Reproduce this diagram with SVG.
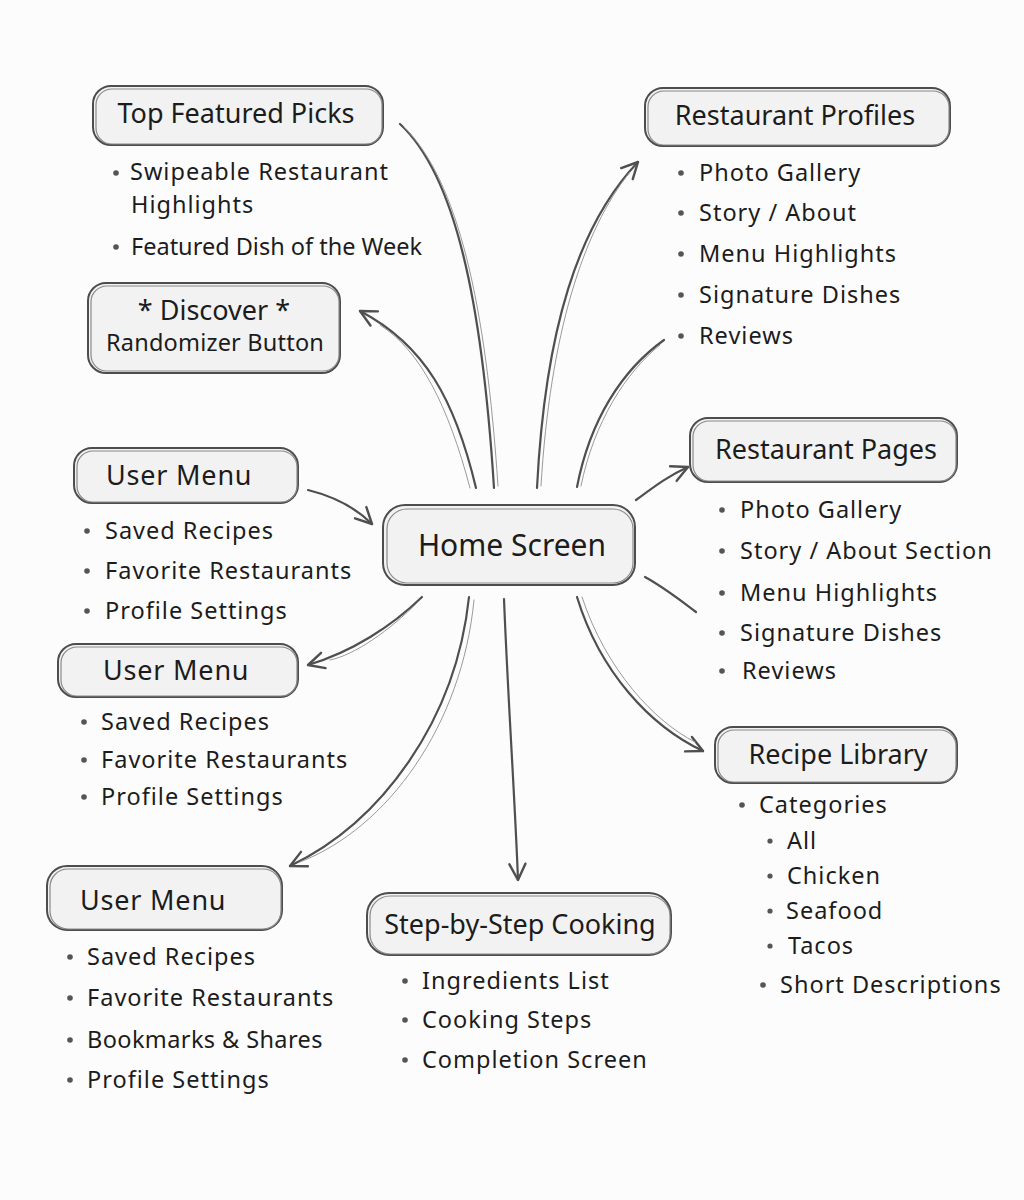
<svg xmlns="http://www.w3.org/2000/svg" width="1024" height="1200" viewBox="0 0 1024 1200">
<defs>
<style>
.bg{fill:#fcfcfc}
.box{fill:#f2f2f2;stroke:#4d4d4d;stroke-width:2}
.box2{fill:none;stroke:#8a8a8a;stroke-width:1.2}
.t{font-family:"Noto Sans","Open Sans",sans-serif;font-size:27px;fill:#1c1c1c}
.tc{text-anchor:middle}
.b{font-family:"Noto Sans","Open Sans",sans-serif;font-size:23.5px;fill:#1c1c1c;letter-spacing:1px}
.dot{fill:#555}
.conn{fill:none;stroke:#4f4f4f;stroke-width:2.2;stroke-linecap:round}
.conn2{fill:none;stroke:#9a9a9a;stroke-width:1;stroke-linecap:round}
</style>
<marker id="arr" markerWidth="24" markerHeight="24" refX="20" refY="12" orient="auto" markerUnits="userSpaceOnUse">
<path d="M4,4 L20,12 L4,20" fill="none" stroke="#4f4f4f" stroke-width="2.4" stroke-linecap="round" stroke-linejoin="round"/>
</marker>
</defs>
<rect class="bg" x="0" y="0" width="1024" height="1200"/>

<g id="connectors">
<path class="conn" d="M400 124 C455 175 482 300 494 488"/>
<path class="conn2" d="M404 127 C458 180 486 305 498 486"/>
<path class="conn" d="M476 488 C455 400 425 345 360 311" marker-end="url(#arr)"/>
<path class="conn2" d="M470 488 C448 405 420 350 380 325"/>
<path class="conn" d="M537 488 C545 330 578 225 638 162" marker-end="url(#arr)"/>
<path class="conn2" d="M541 486 C550 335 583 230 630 172"/>
<path class="conn" d="M577 487 C590 420 622 370 664 340"/>
<path class="conn2" d="M581 486 C594 422 626 372 660 345"/>
<path class="conn" d="M636 500 C655 486 668 476 688 467" marker-end="url(#arr)"/>
<path class="conn" d="M645 577 C665 588 680 600 696 612"/>
<path class="conn" d="M308 490 C336 497 356 508 372 524" marker-end="url(#arr)"/>
<path class="conn" d="M422 597 C392 626 352 652 308 665" marker-end="url(#arr)"/>
<path class="conn2" d="M418 602 C390 630 355 655 330 660"/>
<path class="conn" d="M469 597 C456 720 382 822 290 866" marker-end="url(#arr)"/>
<path class="conn2" d="M474 600 C462 725 388 828 300 862"/>
<path class="conn" d="M504 599 C508 700 515 800 518 880" marker-end="url(#arr)"/>
<path class="conn" d="M577 597 C600 672 650 726 703 751" marker-end="url(#arr)"/>
<path class="conn2" d="M582 597 C606 670 655 722 695 742"/>
</g>

<g id="top-featured-picks">
<rect class="box" x="93" y="86" width="290" height="59" rx="18"/>
<rect class="box2" x="96" y="89" width="286" height="55" rx="16"/>
<text class="t tc" x="236" y="123">Top Featured Picks</text>
<circle class="dot" cx="116" cy="173" r="2.8"/>
<text class="b" x="130" y="180">Swipeable Restaurant</text>
<text class="b" x="131" y="213">Highlights</text>
<circle class="dot" cx="116" cy="247" r="2.8"/>
<text class="b" x="131" y="255" style="letter-spacing:0px">Featured Dish of the Week</text>
</g>

<g id="discover">
<rect class="box" x="88" y="283" width="252" height="90" rx="18"/>
<rect class="box2" x="91" y="286" width="248" height="85" rx="16"/>
<text class="t tc" x="214" y="320">* Discover *</text>
<text class="b tc" x="215" y="351" style="letter-spacing:0.2px">Randomizer Button</text>
</g>

<g id="restaurant-profiles">
<rect class="box" x="645" y="88" width="305" height="58" rx="18"/>
<rect class="box2" x="648" y="91" width="301" height="54" rx="16"/>
<text class="t tc" x="795" y="125">Restaurant Profiles</text>
<circle class="dot" cx="681" cy="173" r="2.8"/>
<text class="b" x="699" y="181">Photo Gallery</text>
<circle class="dot" cx="681" cy="213" r="2.8"/>
<text class="b" x="699" y="221">Story / About</text>
<circle class="dot" cx="681" cy="254" r="2.8"/>
<text class="b" x="699" y="262">Menu Highlights</text>
<circle class="dot" cx="681" cy="295" r="2.8"/>
<text class="b" x="699" y="303">Signature Dishes</text>
<circle class="dot" cx="681" cy="336" r="2.8"/>
<text class="b" x="699" y="344">Reviews</text>
</g>

<g id="user-menu-1">
<rect class="box" x="74" y="448" width="224" height="55" rx="18"/>
<rect class="box2" x="77" y="451" width="220" height="51" rx="16"/>
<text class="t" x="106" y="485" style="letter-spacing:0.8px">User Menu</text>
<circle class="dot" cx="87" cy="531" r="2.8"/>
<text class="b" x="105" y="539">Saved Recipes</text>
<circle class="dot" cx="87" cy="571" r="2.8"/>
<text class="b" x="105" y="579">Favorite Restaurants</text>
<circle class="dot" cx="87" cy="611" r="2.8"/>
<text class="b" x="105" y="619">Profile Settings</text>
</g>

<g id="home-screen">
<rect class="box" x="383" y="505" width="252" height="80" rx="22"/>
<rect class="box2" x="387" y="509" width="246" height="74" rx="20"/>
<text class="t tc" x="512" y="556" style="font-size:30px">Home Screen</text>
</g>

<g id="restaurant-pages">
<rect class="box" x="690" y="418" width="267" height="64" rx="18"/>
<rect class="box2" x="693" y="421" width="263" height="60" rx="16"/>
<text class="t tc" x="826" y="459">Restaurant Pages</text>
<circle class="dot" cx="722" cy="510" r="2.8"/>
<text class="b" x="740" y="518">Photo Gallery</text>
<circle class="dot" cx="722" cy="551" r="2.8"/>
<text class="b" x="740" y="559">Story / About Section</text>
<circle class="dot" cx="722" cy="593" r="2.8"/>
<text class="b" x="740" y="601">Menu Highlights</text>
<circle class="dot" cx="722" cy="633" r="2.8"/>
<text class="b" x="740" y="641">Signature Dishes</text>
<circle class="dot" cx="722" cy="671" r="2.8"/>
<text class="b" x="742" y="679">Reviews</text>
</g>

<g id="user-menu-2">
<rect class="box" x="58" y="644" width="240" height="53" rx="18"/>
<rect class="box2" x="61" y="647" width="236" height="49" rx="16"/>
<text class="t" x="103" y="680" style="letter-spacing:0.8px">User Menu</text>
<circle class="dot" cx="84" cy="722" r="2.8"/>
<text class="b" x="101" y="730">Saved Recipes</text>
<circle class="dot" cx="84" cy="760" r="2.8"/>
<text class="b" x="101" y="768">Favorite Restaurants</text>
<circle class="dot" cx="84" cy="797" r="2.8"/>
<text class="b" x="101" y="805">Profile Settings</text>
</g>

<g id="recipe-library">
<rect class="box" x="715" y="727" width="242" height="56" rx="18"/>
<rect class="box2" x="718" y="730" width="238" height="52" rx="16"/>
<text class="t tc" x="838" y="764">Recipe Library</text>
<circle class="dot" cx="742" cy="805" r="2.8"/>
<text class="b" x="759" y="813">Categories</text>
<circle class="dot" cx="770" cy="841" r="2.6"/>
<text class="b" x="787" y="849">All</text>
<circle class="dot" cx="770" cy="876" r="2.6"/>
<text class="b" x="787" y="884">Chicken</text>
<circle class="dot" cx="770" cy="911" r="2.6"/>
<text class="b" x="786" y="919">Seafood</text>
<circle class="dot" cx="770" cy="946" r="2.6"/>
<text class="b" x="788" y="954">Tacos</text>
<circle class="dot" cx="763" cy="985" r="2.8"/>
<text class="b" x="780" y="993">Short Descriptions</text>
</g>

<g id="user-menu-3">
<rect class="box" x="47" y="866" width="235" height="64" rx="20"/>
<rect class="box2" x="50" y="869" width="231" height="60" rx="18"/>
<text class="t" x="80" y="910" style="letter-spacing:0.8px">User Menu</text>
<circle class="dot" cx="70" cy="957" r="2.8"/>
<text class="b" x="87" y="965">Saved Recipes</text>
<circle class="dot" cx="70" cy="998" r="2.8"/>
<text class="b" x="87" y="1006">Favorite Restaurants</text>
<circle class="dot" cx="70" cy="1040" r="2.8"/>
<text class="b" x="87" y="1048" style="letter-spacing:0.4px">Bookmarks &amp; Shares</text>
<circle class="dot" cx="70" cy="1080" r="2.8"/>
<text class="b" x="87" y="1088">Profile Settings</text>
</g>

<g id="step-by-step-cooking">
<rect class="box" x="367" y="893" width="304" height="62" rx="22"/>
<rect class="box2" x="370" y="896" width="300" height="58" rx="20"/>
<text class="t tc" x="520" y="934">Step-by-Step Cooking</text>
<circle class="dot" cx="405" cy="981" r="2.8"/>
<text class="b" x="422" y="989">Ingredients List</text>
<circle class="dot" cx="405" cy="1020" r="2.8"/>
<text class="b" x="422" y="1028">Cooking Steps</text>
<circle class="dot" cx="405" cy="1060" r="2.8"/>
<text class="b" x="422" y="1068">Completion Screen</text>
</g>
</svg>
